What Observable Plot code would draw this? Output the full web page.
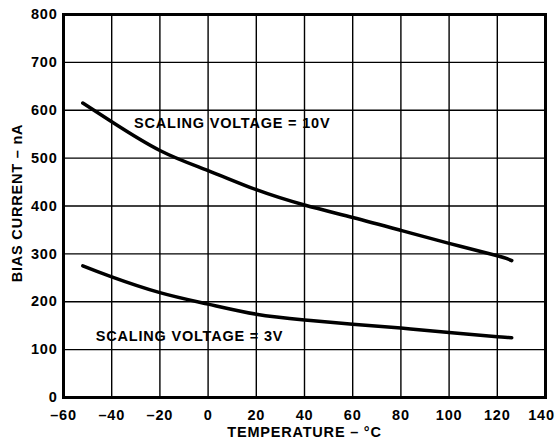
<!DOCTYPE html>
<html>
<head>
<meta charset="utf-8">
<script src="https://cdn.jsdelivr.net/npm/d3@7"></script>
<script src="https://cdn.jsdelivr.net/npm/@observablehq/plot@0.6"></script>
<style>
  html, body { margin: 0; padding: 0; background: #fff; }
  svg text { letter-spacing: 0.8px; font-weight: bold; }
</style>
</head>
<body>
<div id="chart"></div>
<script>
// Temperature (°C) sample points
const temps = [-52, -40, -20, 0, 20, 40, 60, 80, 100, 120, 126];
// Bias current (nA) at scaling voltage 10V
const bias10V = [615, 576, 516, 474, 434, 402, 376, 349, 322, 296, 286];
// Bias current (nA) at scaling voltage 3V
const bias3V = [275, 252, 219, 195, 174, 162, 153, 145, 136, 127, 125];

const xTicks = [-60, -40, -20, 0, 20, 40, 60, 80, 100, 120, 140];
const yTicks = [0, 100, 200, 300, 400, 500, 600, 700, 800];

const labelTexts = ["SCALING VOLTAGE = 10V", "SCALING VOLTAGE = 3V"];
const labelX = [10, -7.7];
const labelY = [572, 127];

const rows = [
  ...temps.map((t, i) => ({series: "10V", t, v: bias10V[i]})),
  ...temps.map((t, i) => ({series: "3V", t, v: bias3V[i]}))
];
const labels = labelTexts.map((s, i) => ({s, x: labelX[i], y: labelY[i]}));

const fmt = d => (d < 0 ? "\u2013" + Math.abs(d) : String(d));
const lastTick = xTicks[xTicks.length - 1];

const chart = Plot.plot({
  width: 557,
  height: 444,
  marginLeft: 63,
  marginRight: 12,
  marginTop: 14,
  marginBottom: 47,
  style: {
    fontFamily: "'Liberation Sans', Arial, sans-serif",
    fontWeight: "bold",
    fontSize: "14.5px",
    color: "#000",
    background: "#fff"
  },
  x: {domain: [-60, 140]},
  y: {domain: [0, 800]},
  marks: [
    Plot.gridX(xTicks, {stroke: "#000", strokeOpacity: 1, strokeWidth: 1.4}),
    Plot.gridY(yTicks, {stroke: "#000", strokeOpacity: 1, strokeWidth: 1.4}),
    Plot.axisX(xTicks.slice(0, -1), {tickSize: 0, tickPadding: 12, tickFormat: fmt, label: null, fontSize: 14.5}),
    Plot.axisX([lastTick], {tickSize: 0, tickPadding: 12, tickFormat: fmt, label: null, fontSize: 14.5, dx: -4}),
    Plot.axisY(yTicks, {tickSize: 0, tickPadding: 6, label: null, fontSize: 14.5}),
    Plot.text(["TEMPERATURE \u2013 \u00B0C"], {frameAnchor: "bottom", dy: 39, fontSize: 14.5}),
    Plot.text(["BIAS CURRENT \u2013 nA"], {frameAnchor: "left", textAnchor: "middle", dx: -46, dy: -3, rotate: -90, fontSize: 14.5}),
    Plot.frame({stroke: "#000", strokeWidth: 3}),
    Plot.line(rows, {x: "t", y: "v", z: "series", stroke: "#000", strokeWidth: 3.5, curve: "natural"}),
    Plot.text(labels, {x: "x", y: "y", text: "s", fontSize: 14.5, fill: "#000"})
  ]
});
document.getElementById("chart").appendChild(chart);
</script>
</body>
</html>
